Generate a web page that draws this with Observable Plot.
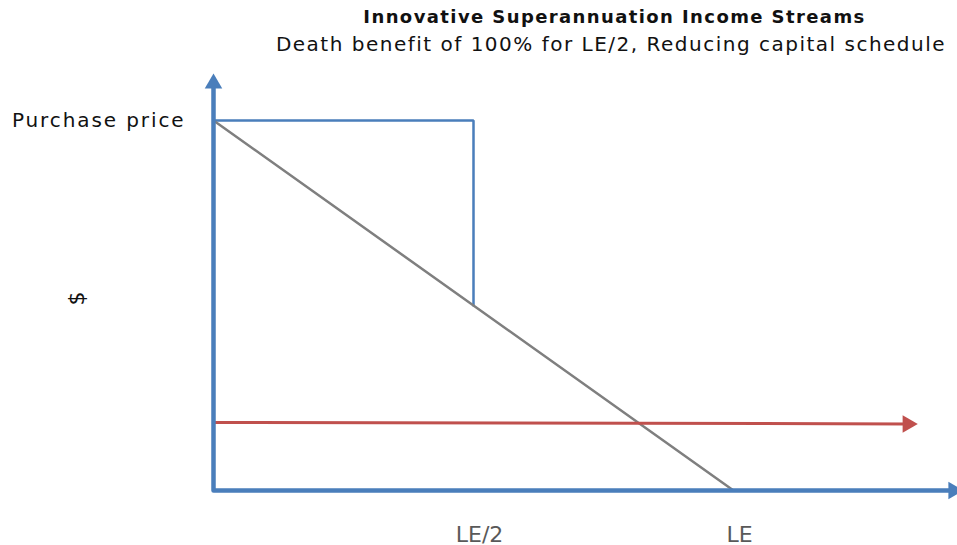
<!DOCTYPE html>
<html><head><meta charset="utf-8">
<script src="https://cdn.jsdelivr.net/npm/d3@7"></script>
<script src="https://cdn.jsdelivr.net/npm/@observablehq/plot@0.6"></script>
<style>
html,body{margin:0;padding:0;background:#fff;overflow:hidden;}
body{font-family:"DejaVu Sans",sans-serif;width:957px;}
#head{position:relative;height:60px;width:957px;}
#title{position:absolute;left:0;top:6px;width:957px;text-align:center;padding-left:272px;box-sizing:border-box;font-size:18px;font-weight:bold;letter-spacing:1.4px;color:#111;}
#subtitle{position:absolute;left:0;top:32px;width:957px;text-align:center;padding-left:265px;box-sizing:border-box;font-size:20px;letter-spacing:1.5px;color:#111;}
#chart svg{display:block;overflow:visible;}
</style></head>
<body>
<div id="head"><div id="title">Innovative Superannuation Income Streams</div><div id="subtitle">Death benefit of 100% for LE/2, Reducing capital schedule</div></div>
<div id="chart"></div>
<script>
// time in units of life expectancy (LE), value in units of purchase price
const tickValues = [0.5, 1];
const tickLabels = ["LE/2", "LE"];
const deathBenefitX = [0, 0.5, 0.5];
const deathBenefitY = [1, 1, 0.5];
const capitalX = [0, 1];
const capitalY = [1, 0];
const incomeX = [0, 1.335];
const incomeY = [0.184, 0.18];
const xAxisEnd = 1.423;
const yAxisEnd = 1.1;
const yLabel = "$";
const priceLabel = "Purchase price";

const BLUE = "#4a7ebb", RED = "#c0504d", GRAY = "#7f7f7f";
const FONT = "DejaVu Sans";
const toPts = (xs, ys) => xs.map((x, i) => ({x, y: ys[i]}));
const ticks = tickValues.map((x, i) => ({x, label: tickLabels[i]}));

const chart = Plot.plot({
  width: 957, height: 485, margin: 0,
  x: {domain: [0, 1], range: [213, 733], axis: null},
  y: {domain: [0, 1], range: [430, 60], axis: null},
  style: {background: "white", overflow: "visible"},
  marks: [
    Plot.line(toPts(deathBenefitX, deathBenefitY), {x: "x", y: "y", stroke: BLUE, strokeWidth: 2.5, strokeLinejoin: "miter"}),
    Plot.line(toPts(capitalX, capitalY), {x: "x", y: "y", stroke: GRAY, strokeWidth: 2.5}),
    Plot.line(toPts(incomeX, incomeY), {x: "x", y: "y", stroke: RED, strokeWidth: 3}),
    Plot.dot([{x: incomeX[1], y: incomeY[1]}], {x: "x", y: "y", symbol: "triangle", r: 6.5, fill: RED, rotate: 90}),
    // axes with arrowheads
    Plot.line(toPts([0, 0, xAxisEnd], [yAxisEnd, 0, 0]), {x: "x", y: "y", stroke: BLUE, strokeWidth: 4.5, strokeLinejoin: "round"}),
    Plot.dot([{x: 0, y: yAxisEnd}], {x: "x", y: "y", symbol: "triangle", r: 6.5, fill: BLUE}),
    Plot.dot([{x: xAxisEnd, y: 0}], {x: "x", y: "y", symbol: "triangle", r: 6.5, fill: BLUE, rotate: 90}),
    // labels
    Plot.text(ticks, {x: "x", y: () => 0, text: "label", dy: 44, dx: 6, fontSize: 22, fill: "#595959", fontFamily: FONT}),
    Plot.text([priceLabel], {x: () => 0, y: () => 1, text: d => d, textAnchor: "end", dx: -28, fontSize: 20, fill: "#111", fontFamily: FONT}),
    Plot.text([yLabel], {frameAnchor: "left", dx: 76, y: () => 0.5, text: d => d, rotate: -90, fontSize: 22, fill: "#111", fontFamily: FONT})
  ]
});
d3.select(chart).selectAll("text").filter(function() { return this.textContent === priceLabel; }).style("letter-spacing", "1.9px");
document.getElementById("chart").appendChild(chart);
</script>
</body></html>
